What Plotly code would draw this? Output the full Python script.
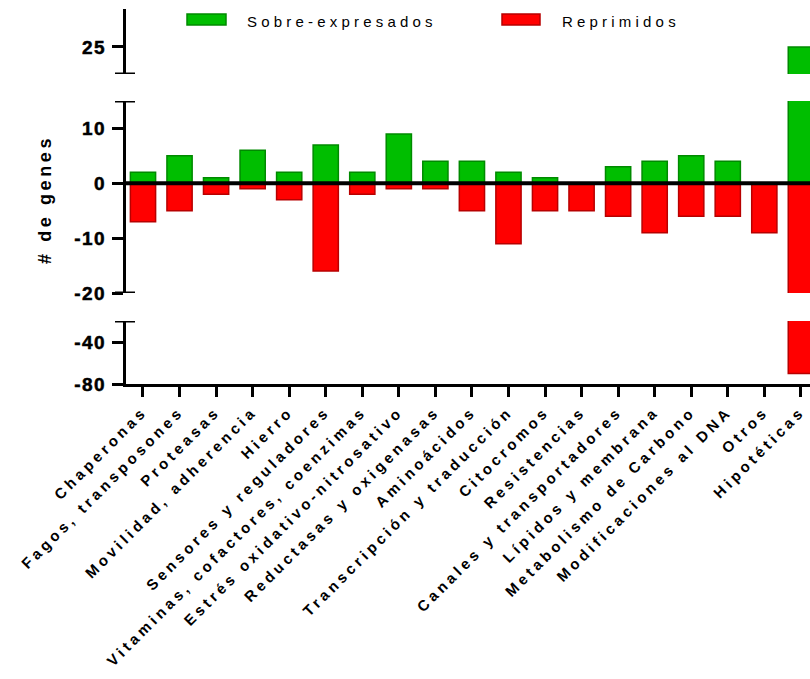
import plotly.graph_objects as go

# Categorías funcionales y número de genes por categoría
categorias = [
    "Chaperonas", "Fagos, transposones", "Proteasas", "Movilidad, adherencia",
    "Hierro", "Sensores y reguladores", "Vitaminas, cofactores, coenzimas",
    "Estrés oxidativo-nitrosativo", "Reductasas y oxigenasas", "Aminoácidos",
    "Transcripción y traducción", "Citocromos", "Resistencias",
    "Canales y transportadores", "Lípidos y membrana", "Metabolismo de Carbono",
    "Modificaciones al DNA", "Otros", "Hipotéticas",
]
sobre_expresados = [2, 5, 1, 6, 2, 7, 2, 9, 4, 4, 2, 1, 0, 3, 4, 5, 4, 0, 25]
reprimidos = [-7, -5, -2, -1, -3, -16, -2, -1, -1, -5, -11, -5, -5, -6, -9, -6, -6, -9, -70]

# Eje Y segmentado: (eje, rango, marcas, etiquetas)
segmentos = [
    ("y2", [20, 32], [25], ["25"]),
    ("y", [-20, 15], [10, 0, -10, -20], ["10", "0", "-10", "-20"]),
    ("y3", [-80, -20], [-40, -80], ["-40", "-80"]),
]

W, H = 810, 679
L, R, T, B = 126, 0, 9, 295
PW, PH = W - L - R, H - T - B


def px_x(px):
    return (px - L) / PW


def px_y(py):
    return (H - B - py) / PH


VERDE, VERDE_BORDE = "#00BE00", "#008A00"
ROJO, ROJO_BORDE = "#FF0000", "#B80000"
FUENTE = "Liberation Sans, Arial, sans-serif"

fig = go.Figure()
for eje, rango, marcas, etiquetas in segmentos:
    fig.add_trace(go.Bar(
        x=categorias, y=sobre_expresados, yaxis=eje, name="Sobre-expresados",
        marker=dict(color=VERDE, line=dict(color=VERDE_BORDE, width=1.5)),
        showlegend=False, hoverinfo="skip",
    ))
    fig.add_trace(go.Bar(
        x=categorias, y=reprimidos, yaxis=eje, name="Reprimidos",
        marker=dict(color=ROJO, line=dict(color=ROJO_BORDE, width=1.5)),
        showlegend=False, hoverinfo="skip",
    ))

dominios = {
    "y2": [px_y(74), 1.0],
    "y": [px_y(293), px_y(101)],
    "y3": [0.0, px_y(321)],
}

eje_y_base = dict(
    showline=True, linewidth=3, linecolor="black",
    ticks="outside", ticklen=11, tickwidth=3, tickcolor="black",
    showgrid=False, zeroline=False, anchor="x",
    tickfont=dict(family=FUENTE, size=19, color="black", weight=700),
    ticklabelstandoff=2,
)
layout_ejes = {}
for eje, rango, marcas, etiquetas in segmentos:
    nombre = "yaxis" if eje == "y" else "yaxis" + eje[1:]
    layout_ejes[nombre] = dict(eje_y_base, range=rango, tickvals=marcas,
                               ticktext=["<b>%s</b>" % e for e in etiquetas],
                               domain=dominios[eje])

fig.update_layout(
    width=W, height=H,
    margin=dict(l=L, r=R, t=T, b=B),
    paper_bgcolor="white", plot_bgcolor="white",
    barmode="overlay", bargap=0.31,
    xaxis=dict(
        range=[-0.465, 18.25], anchor="y3",
        showline=True, linewidth=3, linecolor="black",
        ticks="outside", ticklen=10, tickwidth=3, tickcolor="black",
        showgrid=False, tickangle=-45,
        tickvals=categorias, ticktext=["<b>%s</b>" % c for c in categorias],
        tickfont=dict(family=FUENTE, size=15, color="black"),
    ),
    **layout_ejes,
)

# Línea del cero y remates de los segmentos del eje
fig.add_shape(type="line", xref="paper", yref="y", x0=0, x1=1, y0=0, y1=0,
              line=dict(color="black", width=4), layer="above")
for yref, val in [("y2", 20), ("y", 15), ("y", -20), ("y3", -20)]:
    fig.add_shape(type="line", xref="paper", yref=yref,
                  x0=px_x(115), x1=px_x(135), y0=val, y1=val,
                  line=dict(color="black", width=3), layer="above")

# Leyenda
for nombre, color, borde, x0, x1, xt in [
    ("Sobre-expresados", VERDE, VERDE_BORDE, 187, 226, 245),
    ("Reprimidos", ROJO, ROJO_BORDE, 502, 540, 560),
]:
    fig.add_shape(type="rect", xref="paper", yref="paper",
                  x0=px_x(x0), x1=px_x(x1), y0=px_y(25), y1=px_y(14),
                  fillcolor=color, line=dict(color=borde, width=1.5))
    fig.add_annotation(text=nombre, xref="paper", yref="paper",
                       x=px_x(xt), y=px_y(22), xanchor="left", yanchor="middle",
                       showarrow=False, name="leyenda",
                       font=dict(family=FUENTE, size=15, color="black"))

fig.add_annotation(text="<b># de genes</b>", xref="paper", yref="paper",
                   x=px_x(45), y=px_y(200), xanchor="center", yanchor="middle",
                   textangle=-90, showarrow=False,
                   font=dict(family=FUENTE, size=18, color="black"))

# Espaciado entre letras; las etiquetas de la leyenda conservan su borde izquierdo
espaciado = """
document.querySelectorAll('.xtick text').forEach(function(t){t.style.letterSpacing='0.25em';});
document.querySelectorAll('.ytick text, .y2tick text, .y3tick text').forEach(function(t){
  t.style.letterSpacing='0.08em'; t.style.fontWeight='bold';
  t.style.stroke='black'; t.style.strokeWidth='0.5px';
});
document.querySelectorAll('.annotation-text').forEach(function(t){
  var txt = t.textContent;
  var w0 = t.getBBox().width;
  if (txt.indexOf('genes') >= 0) { t.style.letterSpacing = '0.2em'; return; }
  t.style.letterSpacing = '0.28em';
  var w1 = t.getBBox().width;
  t.setAttribute('dx', (w1 - w0) / 2);
});
"""

fig.write_html("out.html", post_script=espaciado)
